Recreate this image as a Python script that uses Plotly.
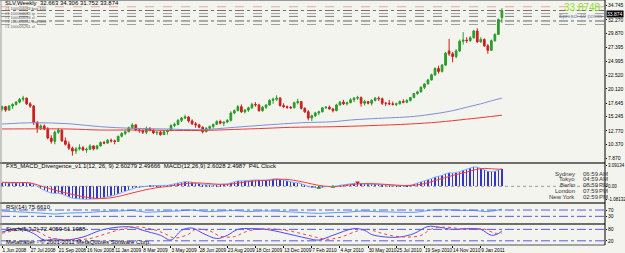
import pandas as pd
import plotly.graph_objects as go

# ---------------- data ----------------
start = pd.Timestamp("2008-06-01")

opens = [16.6,17.0,16.4,17.1,17.4,17.8,18.3,18.5,17.5,17.1,14.2,13.3,13.6,13.1,11.5,10.9,12.5,12.9,11.0,10.4,
         9.7,9.2,9.6,9.8,9.4,9.5,10.1,9.6,10.1,10.7,10.6,11.1,11.0,10.9,11.8,12.3,12.6,13.3,13.8,12.9,
         12.8,12.5,13.2,12.8,12.4,12.5,12.1,12.6,12.8,13.7,13.9,14.6,15.0,15.2,14.5,14.0,13.8,13.4,12.6,13.2,
         13.5,13.9,14.4,14.1,14.3,14.6,15.9,16.3,17.0,16.1,16.4,16.8,17.4,17.3,16.3,16.9,17.3,18.1,18.3,18.5,
         17.2,17.0,16.9,16.8,17.7,17.9,16.7,16.1,15.0,15.4,15.9,16.1,16.8,16.9,16.6,16.3,17.3,17.8,17.5,17.7,
         18.2,18.5,18.6,17.6,17.9,17.6,18.1,18.5,18.4,17.6,17.6,17.5,17.4,17.5,17.9,17.8,18.1,18.6,19.3,19.6,
         20.4,21.0,21.7,22.6,23.7,23.2,24.3,26.8,26.3,25.8,26.8,28.5,28.7,28.6,29.1,30.3,28.4,28.8,27.7,26.9,
         28.6,29.7,32.663]
highs = [17.2,17.1,17.3,17.6,18.0,18.5,18.9,18.6,17.8,17.3,14.5,13.9,13.9,13.4,12.0,12.8,13.2,13.0,11.6,10.9,
         10.0,9.9,10.4,10.1,9.8,10.4,10.2,10.3,10.9,11.0,11.3,11.4,11.2,11.9,12.5,12.8,13.5,14.1,13.9,13.2,
         13.0,13.5,13.4,13.1,12.7,12.8,12.9,13.0,13.9,14.2,14.8,15.2,15.6,15.3,14.8,14.3,14.0,13.5,13.4,13.7,
         14.0,14.6,14.7,14.4,14.8,16.2,16.5,17.3,17.4,16.6,17.0,17.7,17.8,17.5,17.1,17.4,18.3,18.6,19.0,18.7,
         17.6,17.2,17.1,17.9,18.4,18.0,16.9,16.4,15.6,16.1,16.3,16.9,17.1,17.2,16.8,17.5,18.0,18.2,17.9,18.5,
         18.7,18.9,18.8,18.2,18.0,18.3,18.7,18.8,18.6,17.8,18.2,17.9,17.7,18.1,18.3,18.3,18.7,19.4,19.8,20.6,
         21.1,21.9,22.8,23.9,24.2,24.5,26.6,28.9,26.6,27.1,28.8,30.1,29.2,29.4,30.5,30.8,29.2,29.0,28.0,28.8,
         29.9,32.5,34.306]
lows = [16.2,16.1,16.3,16.6,17.2,17.6,17.9,17.3,16.8,13.8,12.4,12.9,12.9,11.3,10.5,10.4,12.2,10.8,10.2,9.4,
        8.4,8.7,9.3,9.2,8.9,9.4,9.3,9.5,10.0,10.4,10.5,10.7,10.4,10.8,11.6,12.0,12.5,13.1,12.7,12.4,
        12.2,12.2,12.7,12.2,12.0,11.9,12.0,12.1,12.7,13.4,13.7,14.3,14.8,14.2,13.8,13.3,13.2,12.3,12.5,13.0,
        13.2,13.8,13.9,13.6,14.1,14.4,15.7,16.2,15.9,15.8,16.1,16.6,17.0,16.1,16.1,16.6,17.2,17.5,18.0,17.0,
        16.8,16.6,16.6,16.7,17.4,16.5,15.9,14.6,14.5,15.2,15.5,16.0,16.6,16.5,16.0,16.2,17.2,17.3,17.2,17.6,
        17.8,18.2,17.0,17.2,17.4,17.2,17.9,18.0,17.3,17.1,17.3,17.2,17.1,17.4,17.6,17.6,17.9,18.5,19.1,19.5,
        20.1,20.9,21.6,22.4,22.8,23.0,24.2,25.9,24.8,25.5,26.6,27.9,28.2,28.4,29.0,28.2,28.2,27.5,26.3,26.8,
        28.4,29.6,31.752]
closes = [17.0,16.4,17.1,17.4,17.8,18.3,18.5,17.5,17.1,14.2,13.3,13.6,13.1,11.5,10.9,12.5,12.9,11.0,10.4,9.7,
          9.2,9.6,9.8,9.4,9.5,10.1,9.6,10.1,10.7,10.6,11.1,11.0,10.9,11.8,12.3,12.6,13.3,13.8,12.9,12.8,
          12.5,13.2,12.8,12.4,12.5,12.1,12.6,12.8,13.7,13.9,14.6,15.0,15.2,14.5,14.0,13.8,13.4,12.6,13.2,13.5,
          13.9,14.4,14.1,14.3,14.6,15.9,16.3,17.0,16.1,16.4,16.8,17.4,17.3,16.3,16.9,17.3,18.1,18.3,18.5,17.2,
          17.0,16.9,16.8,17.7,17.9,16.7,16.1,15.0,15.4,15.9,16.1,16.8,16.9,16.6,16.3,17.3,17.8,17.5,17.7,18.2,
          18.5,18.6,17.6,17.9,17.6,18.1,18.5,18.4,17.6,17.6,17.5,17.4,17.5,17.9,17.8,18.1,18.6,19.3,19.6,20.4,
          21.0,21.7,22.6,23.7,23.2,24.3,26.4,26.3,25.8,26.8,28.5,28.7,28.6,29.1,30.3,28.4,28.8,27.7,26.9,28.6,
          29.7,32.3,33.874]

# moving averages (read at selected weeks)
ma_fast_weeks = [0, 9, 19, 28, 37, 47, 56, 66, 75, 85, 94, 99, 107, 116, 120, 124, 128, 132, 136, 140, 142]
ma_fast_vals = [13.95, 14.18, 14.0, 13.48, 13.2, 13.08, 12.95, 13.37, 13.78, 14.18, 14.36, 14.66, 14.95, 15.24,
                15.5, 15.85, 16.3, 16.9, 17.5, 18.2, 18.5]
ma_slow_weeks = [0, 19, 28, 37, 56, 66, 75, 82, 94, 104, 116, 124, 132, 142]
ma_slow_vals = [13.08, 13.08, 12.9, 12.9, 12.82, 13.0, 13.2, 13.37, 13.48, 13.66, 13.96, 14.3, 14.8, 15.5]

# MACD main (histogram) one value per week
macd_vals = [0.55,0.5,0.45,0.45,0.5,0.55,0.6,0.55,0.45,0.3,
             0.0,-0.35,-0.6,-0.8,-1.0,-1.05,-1.0,-1.15,-1.35,-1.55,
             -1.75,-1.8,-1.85,-1.9,-1.92,-1.88,-1.9,-1.85,-1.75,-1.65,
             -1.5,-1.4,-1.3,-1.1,-0.9,-0.7,-0.5,-0.3,-0.2,-0.12,
             -0.05,0.05,0.1,0.1,0.12,0.1,0.12,0.15,0.25,0.35,
             0.5,0.6,0.7,0.68,0.6,0.5,0.4,0.25,0.2,0.18,
             0.2,0.25,0.28,0.3,0.35,0.5,0.65,0.8,0.8,0.8,
             0.85,0.9,0.95,0.9,0.9,0.9,1.0,1.1,1.15,1.05,
             0.9,0.75,0.6,0.55,0.55,0.4,0.2,-0.05,-0.15,-0.2,
             -0.2,-0.1,-0.05,-0.02,-0.05,0.05,0.2,0.25,0.3,0.35,
             0.45,0.5,0.4,0.35,0.3,0.3,0.32,0.33,0.25,0.2,
             0.15,0.1,0.08,0.1,0.1,0.12,0.18,0.3,0.45,0.6,
             0.75,0.95,1.15,1.35,1.45,1.6,1.85,2.0,1.95,2.0,
             2.15,2.35,2.5,2.65,2.85,2.8,2.65,2.45,2.2,2.15,
             2.2,2.4,2.60279]
sig_weeks = [0,4,8,12,16,20,24,28,32,36,40,44,48,52,56,60,64,68,72,76,80,84,88,92,96,100,104,108,112,116,120,124,128,132,136,140,142]
sig_vals = [0.6,0.55,0.5,-0.1,-0.7,-1.2,-1.6,-1.8,-1.6,-1.1,-0.6,-0.2,0.05,0.4,0.5,0.35,0.3,0.55,0.8,0.9,1.05,0.8,0.35,
            0.0,0.0,0.3,0.4,0.32,0.18,0.12,0.4,1.0,1.6,2.1,2.6,2.55,2.49666]
macd_axis_labels = ["3.09134", "0.00", "-1.08132"]
bull_div_weeks = [90, 94]
bull_div_vals = [-0.2, -0.05]
bear_div_weeks = [101]
bear_div_vals = [0.55]

# RSI(14)
rsi_weeks = [0,5,11,15,18,24,28,33,37,41,45,50,54,58,62,66,70,74,78,82,86,90,94,98,102,106,110,114,118,122,126,130,134,138,142]
rsi_vals = [63,58,51,45,50,54,60,63,67,56,60,64,70,60,63,67,60,64,62,58,53,49,53,56,63,60,58,55,57,70,72,68,67,60,75.661]

# Stochastic
sto_weeks = [0,5,9,12,15,18,23,28,33,37,40,45,48,51,54,57,61,64,67,71,75,79,83,87,90,94,100,103,105,109,113,117,121,124,128,132,136,139,141,142]
sto_main = [66,84,58,24,30,24,40,75,92,92,75,49,24,75,87,60,32,49,80,84,80,66,49,32,24,49,84,75,53,40,40,58,95,92,80,84,80,49,58,72.4059]
sig_sto_weeks = [0,6,10,13,16,20,25,30,35,38,42,46,49,53,55,59,62,66,69,73,77,81,85,89,92,96,101,104,107,111,115,119,122,126,130,134,137,140,142]
sto_sig = [60,78,70,40,28,26,32,60,85,93,84,60,35,55,80,72,44,42,66,82,82,74,58,40,28,38,72,80,64,46,40,48,82,92,84,82,82,60,61.1988]

# price axis labels and horizontal levels
price_ticks = [34.745, 32.270, 29.870, 27.395, 24.995, 22.520, 20.120, 17.645, 15.245, 12.770, 10.370, 7.870]
last_price = 33.874
level_prices = [34.56, 33.90, 33.36, 32.86, 32.06, 31.44]
level_colors = ["#e9a596", "#707070", "#a0a0a0", "#808080", "#606060", "#a0a0a0"]
level_dash = ["dash", "dashdot", "dash", "dash", "dashdot", "dash"]
order_labels = ["#1 100004083 buy 100", "#1 100004083 tp", "#1 100004083 sl",
                "#1 100005261 buy limit", "#1 100005261 sl"]

x_tick_labels = ["1 Jun 2008", "27 Jul 2008", "21 Sep 2008", "16 Nov 2008", "11 Jan 2009", "8 Mar 2009",
                 "3 May 2009", "28 Jun 2009", "23 Aug 2009", "18 Oct 2009", "13 Dec 2009", "7 Feb 2010",
                 "4 Apr 2010", "30 May 2010", "25 Jul 2010", "19 Sep 2010", "14 Nov 2010", "9 Jan 2011"]

clock_cities = ["Sydney", "Tokyo", "Berlin", "London", "New York"]
clock_times = ["06:59", "04:59", "08:59", "07:59", "02:59"]
clock_ampm = ["AM", "AM", "PM", "PM", "PM"]

# ---------------- figure ----------------
W, H = 625, 253
ML, MR, MT, MB = 1, 20, 0, 8
PW, PH = W - ML - MR, H - MT - MB

def px(xp):
    return (xp - ML) / PW

def py(yp):
    return (PH - (yp - MT)) / PH

n = len(closes)
dates = [start + pd.Timedelta(weeks=i) for i in range(n)]
def wk(lst):
    return [start + pd.Timedelta(weeks=i) for i in lst]

FONT = "Liberation Sans"
fig = go.Figure()

fig.add_trace(go.Candlestick(
    x=dates, open=opens, high=highs, low=lows, close=closes,
    increasing=dict(line=dict(color="#2a9d2a", width=1), fillcolor="#2a9d2a"),
    decreasing=dict(line=dict(color="#cc1f1f", width=1), fillcolor="#cc1f1f"),
    whiskerwidth=0, xaxis="x", yaxis="y", showlegend=False, hoverinfo="skip"))
fig.add_trace(go.Scatter(x=wk(ma_fast_weeks), y=ma_fast_vals, mode="lines", line=dict(color="#7d8fd8", width=1, shape="spline"),
                         xaxis="x", yaxis="y", showlegend=False))
fig.add_trace(go.Scatter(x=wk(ma_slow_weeks), y=ma_slow_vals, mode="lines", line=dict(color="#e83a3a", width=1, shape="spline"),
                         xaxis="x", yaxis="y", showlegend=False))

# MACD
fig.add_trace(go.Bar(x=dates, y=macd_vals, width=0.9 * 86400000, marker=dict(color="#3434d0", line=dict(width=0)),
                     xaxis="x", yaxis="y2", showlegend=False))
fig.add_trace(go.Scatter(x=dates, y=macd_vals, mode="lines", line=dict(color="#7fb0ff", width=1),
                         xaxis="x", yaxis="y2", showlegend=False))
fig.add_trace(go.Scatter(x=wk(sig_weeks), y=sig_vals, mode="lines", line=dict(color="#ff3b3b", width=1, shape="spline"),
                         xaxis="x", yaxis="y2", showlegend=False))
fig.add_trace(go.Scatter(x=wk(bull_div_weeks), y=bull_div_vals, mode="markers",
                         marker=dict(symbol="triangle-up", size=4, color="#1a8a1a"),
                         xaxis="x", yaxis="y2", showlegend=False))
fig.add_trace(go.Scatter(x=wk(bear_div_weeks), y=bear_div_vals, mode="markers",
                         marker=dict(symbol="triangle-down", size=4, color="#e01010"),
                         xaxis="x", yaxis="y2", showlegend=False))

# RSI
fig.add_trace(go.Scatter(x=wk(rsi_weeks), y=rsi_vals, mode="lines", line=dict(color="#4aa0ff", width=1, shape="spline"),
                         xaxis="x", yaxis="y3", showlegend=False))
# Stochastic
fig.add_trace(go.Scatter(x=wk(sto_weeks), y=sto_main, mode="lines", line=dict(color="#4b4bf0", width=1, shape="spline"),
                         xaxis="x", yaxis="y4", showlegend=False))
fig.add_trace(go.Scatter(x=wk(sig_sto_weeks), y=sto_sig, mode="lines", line=dict(color="#ff4040", width=1, dash="dot", shape="spline"),
                         xaxis="x", yaxis="y4", showlegend=False))

x0 = start - pd.Timedelta(days=2)
x1 = start + pd.Timedelta(days=1199)

tickfont = dict(family=FONT, size=5, color="#000000")
common_y = dict(side="right", showgrid=False, zeroline=False, showline=False, ticks="outside", ticklen=1,
                tickcolor="#000", tickfont=tickfont, anchor="x", fixedrange=True, automargin=False)

def dom(top, bottom):
    return [py(bottom), py(top)]

fig.update_layout(
    width=W, height=H, margin=dict(l=ML, r=MR, t=MT, b=MB, autoexpand=False),
    paper_bgcolor="#f4f4ef", plot_bgcolor="#f4f4ef",
    showlegend=False, bargap=0,
    xaxis=dict(domain=[0, 1], anchor="y4", range=[x0, x1], showgrid=False, zeroline=False,
               rangeslider=dict(visible=False), tickvals=pd.to_datetime(x_tick_labels, format="%d %b %Y"),
               ticktext=x_tick_labels, ticks="outside", ticklen=2, tickcolor="#000", tickangle=0,
               ticklabelposition="outside right", tickfont=dict(family=FONT, size=4.8, color="#000"),
               showline=False, automargin=False),
    yaxis=dict(domain=dom(1, 162), range=[7.28, 35.57], tickvals=price_ticks,
               ticktext=[f"{v:.3f}" for v in price_ticks], **common_y),
    yaxis2=dict(domain=dom(164, 202), range=[-2.3, 3.28], tickvals=[3.09134, 0, -1.95],
                ticktext=["", "", ""], **common_y),
    yaxis3=dict(domain=dom(204, 223), range=[-12, 108], tickvals=[70, 30], ticktext=["70", "30"], **common_y),
    yaxis4=dict(domain=dom(225, 245), range=[-2, 103], tickvals=[80, 20], ticktext=["80", "20"], **common_y),
)

shapes = []
for p, c, d in zip(level_prices, level_colors, level_dash):
    shapes.append(dict(type="line", xref="paper", yref="y", x0=0, x1=1, y0=p, y1=p,
                       line=dict(color=c, width=1, dash=d)))
shapes.append(dict(type="line", xref="paper", yref="y2", x0=0, x1=1, y0=0, y1=0, line=dict(color="#9a9a9a", width=1, dash="dot")))
for lv in (70, 30):
    shapes.append(dict(type="line", xref="paper", yref="y3", x0=0, x1=1, y0=lv, y1=lv, line=dict(color="#5a5ae6", width=1, dash="dashdot")))
for lv in (80, 20):
    shapes.append(dict(type="line", xref="paper", yref="y4", x0=0, x1=1, y0=lv, y1=lv, line=dict(color="#5a5ae6", width=1, dash="dashdot")))
for yp in (163, 203, 224):
    shapes.append(dict(type="line", xref="paper", yref="paper", x0=px(0), x1=1, y0=py(yp), y1=py(yp),
                       line=dict(color="#6e6e6e", width=2)))
shapes.append(dict(type="line", xref="paper", yref="paper", x0=px(0), x1=1, y0=py(245), y1=py(245), line=dict(color="#555", width=1)))
shapes.append(dict(type="line", xref="paper", yref="paper", x0=px(0), x1=1, y0=py(0.5), y1=py(0.5), line=dict(color="#999", width=1)))
shapes.append(dict(type="line", xref="paper", yref="paper", x0=1, x1=1, y0=py(245), y1=py(0), line=dict(color="#000", width=1)))
shapes.append(dict(type="line", xref="paper", yref="paper", x0=px(1), x1=px(1), y0=py(245), y1=py(0), line=dict(color="#999", width=1)))
fig.update_layout(shapes=shapes)

small = dict(family=FONT, size=6, color="#000")
anns = []
anns.append(dict(x=px(3), y=py(3.5), xref="paper", yref="paper", text="SLV,Weekly  32.663 34.306 31.752 33.874",
                 showarrow=False, xanchor="left", yanchor="middle", font=small))
for t, yy in zip(order_labels, [8.8, 13.1, 17.4, 21.7, 26.0]):
    anns.append(dict(x=px(3), y=py(yy), xref="paper", yref="paper", text=t, showarrow=False,
                     xanchor="left", yanchor="middle", font=dict(family=FONT, size=4, color="#606060")))
anns.append(dict(x=px(603), y=py(7.5), xref="paper", yref="paper", text="33.8748", showarrow=False,
                 xanchor="right", yanchor="middle", font=dict(family=FONT, size=10, color="#8ee02a")))
anns.append(dict(x=px(604), y=py(16), xref="paper", yref="paper", text="Spread: 10 points", showarrow=False,
                 xanchor="right", yanchor="middle", font=dict(family=FONT, size=5.5, color="#7a8aa8")))
anns.append(dict(x=1, y=last_price, xref="paper", yref="y", text=f"{last_price:.3f}", showarrow=False, xanchor="left",
                 yanchor="middle", xshift=1, yshift=-3, bgcolor="#000", font=dict(family=FONT, size=5, color="#fff"),
                 borderpad=0))
# MACD axis labels (right side)
for t, v in zip(macd_axis_labels, [3.09134, 0, -1.95]):
    anns.append(dict(x=1, y=v, xref="paper", yref="y2", text=t, showarrow=False, xanchor="left", yanchor="middle",
                     xshift=1, font=dict(family=FONT, size=4.5, color="#000")))
anns.append(dict(x=px(4), y=py(166.5), xref="paper", yref="paper",
                 text="FX5_MACD_Divergence_v1.1(12, 26, 9) 2.60279 2.49666  MACD(12,26,9) 2.6028 2.4987  P4L Clock",
                 showarrow=False, xanchor="left", yanchor="middle", font=small))
anns.append(dict(x=px(4), y=py(207), xref="paper", yref="paper", text="RSI(14) 75.6610",
                 showarrow=False, xanchor="left", yanchor="middle", font=small))
anns.append(dict(x=px(4), y=py(228.5), xref="paper", yref="paper", text="Stoch(5,3,3) 72.4059 61.1988",
                 showarrow=False, xanchor="left", yanchor="middle", font=small))
anns.append(dict(x=px(4), y=py(241.5), xref="paper", yref="paper", text="Metatrader - \u00a9 2001-2011 MetaQuotes Software Corp.",
                 showarrow=False, xanchor="left", yanchor="middle", font=small))
for k, (c, t, a) in enumerate(zip(clock_cities, clock_times, clock_ampm)):
    yy = 173.5 + k * 5.8
    anns.append(dict(x=px(577), y=py(yy), xref="paper", yref="paper", text=c, showarrow=False,
                     xanchor="right", yanchor="middle", font=dict(family=FONT, size=6, color="#333")))
    anns.append(dict(x=px(581), y=py(yy), xref="paper", yref="paper", text=t, showarrow=False,
                     xanchor="left", yanchor="middle", font=dict(family=FONT, size=6, color="#333")))
    anns.append(dict(x=px(597), y=py(yy), xref="paper", yref="paper", text=a, showarrow=False,
                     xanchor="left", yanchor="middle", font=dict(family=FONT, size=6, color="#333")))
fig.update_layout(annotations=anns)

fig.write_html("out.html")
